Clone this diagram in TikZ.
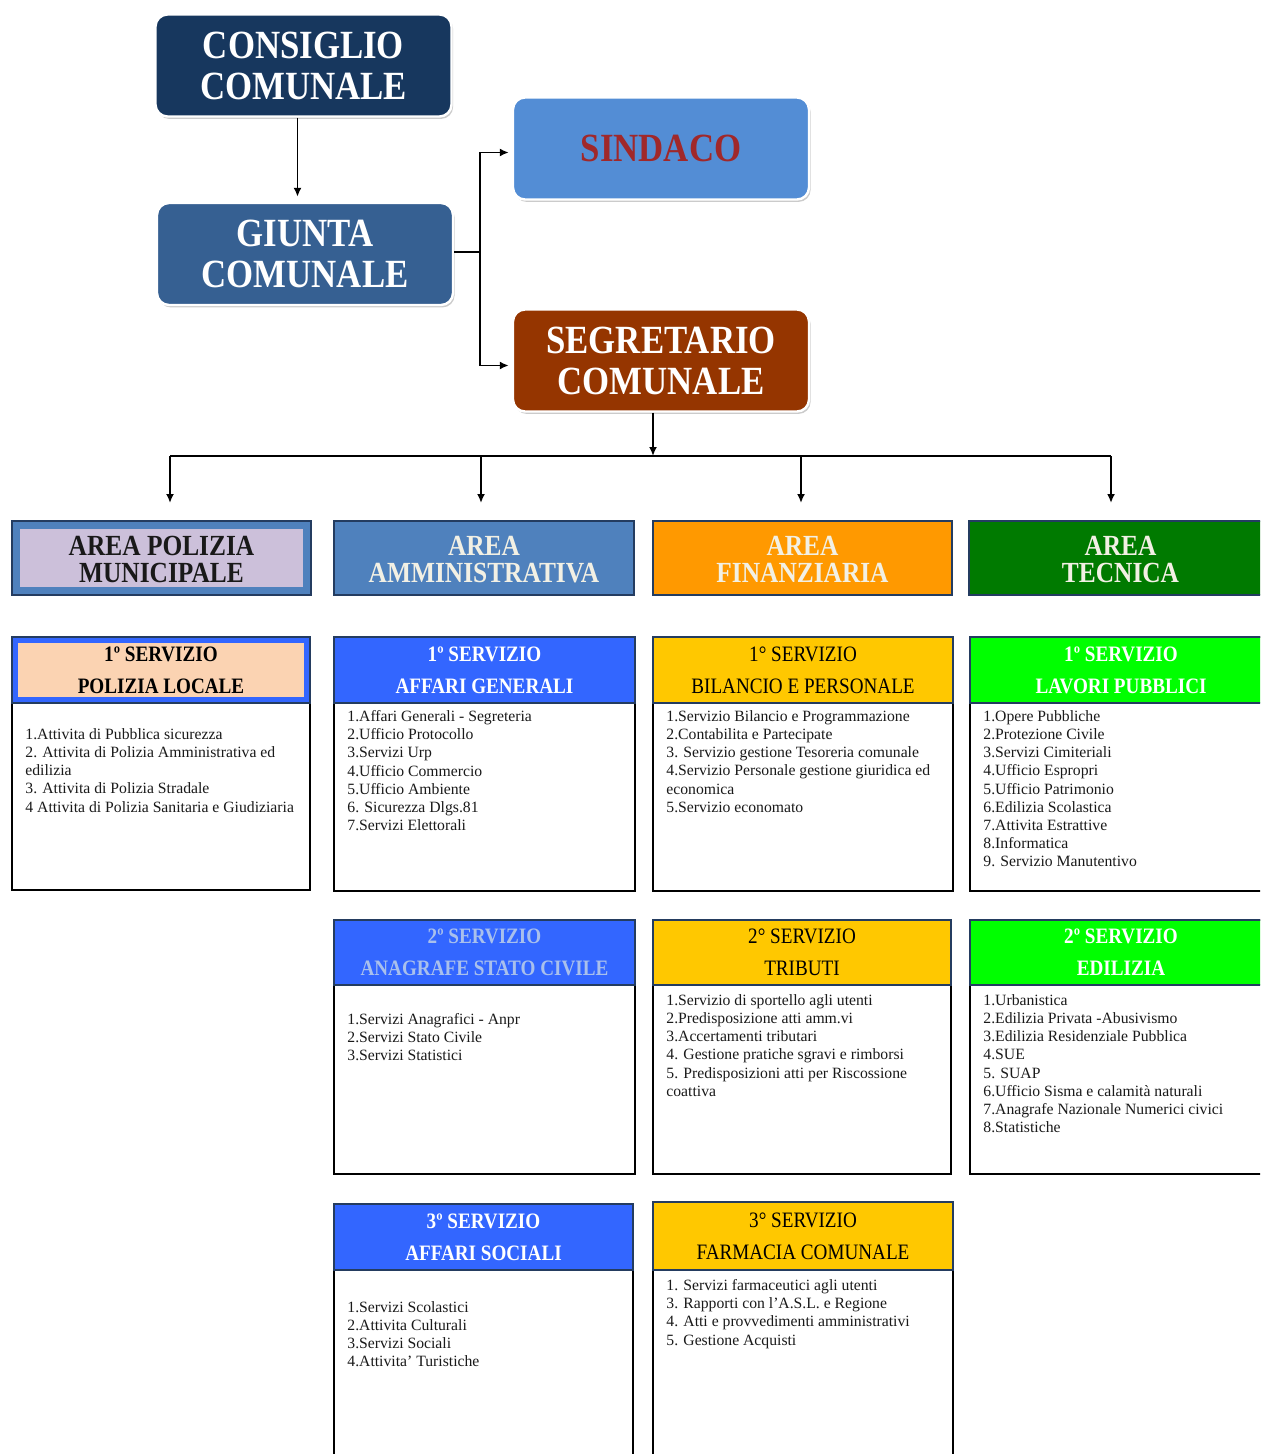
\documentclass[tikz,border=0pt]{standalone}
\usepackage{fontspec}
\setmainfont{Liberation Serif}
\newfontfamily\condfont[FakeStretch=0.87]{Liberation Serif}
\usetikzlibrary{arrows.meta,shadows,fit}
\definecolor{cNavy}{HTML}{17375E}
\definecolor{cGiunta}{HTML}{366092}
\definecolor{cSind}{HTML}{538DD5}
\definecolor{cSindTxt}{HTML}{A0282A}
\definecolor{cSegr}{HTML}{953500}
\definecolor{cLav}{HTML}{CCC0DA}
\definecolor{cAreaBlue}{HTML}{4F81BD}
\definecolor{cOrange}{HTML}{FF9900}
\definecolor{cDkGreen}{HTML}{007A00}
\definecolor{cCream}{HTML}{F2F0E4}
\definecolor{cBlue}{HTML}{3366FF}
\definecolor{cYellow}{HTML}{FFC800}
\definecolor{cGreen}{HTML}{00FF00}
\definecolor{cPeach}{HTML}{FBD3B2}
\definecolor{cLine}{HTML}{243C60}
\definecolor{cAnagTxt}{HTML}{A9C0EC}
\definecolor{cBody}{HTML}{1A1A1A}
\newcommand{\SvcBox}[9]{%
  \coordinate (#1a) at (#2,#4);
  \coordinate (#1b) at (#3,#5);
  \coordinate (#1c) at (#3,#6);
  \node[bodybox, fit=(#1a)(#1c)] (#1body) {};
  \node[hdrbox, #7, fit=(#1a)(#1b)] (#1head) {};
  \node[hdrlabel, #9] (#1label) at (#1head.center) {#8};
}
\begin{document}
\begin{tikzpicture}[x=0.5pt,y=-0.5pt,
  conn/.style={draw=black, line width=0.9pt},
  arr/.style={conn, -{Latex[length=4.5pt,width=4pt]}},
  topbox/.style={rounded corners=6pt, draw=white, line width=1.2pt,
    drop shadow={shadow xshift=0.8pt, shadow yshift=-1.2pt, fill=black!45, opacity=0.45},
    minimum width=148pt, minimum height=51pt, align=center, inner sep=0pt,
    font=\condfont\bfseries\fontsize{20}{20.5}\selectfont, text=white},
  areabox/.style={draw=cLine, line width=1.4pt, inner sep=0pt},
  arealabel/.style={inner sep=0pt, align=center,
    font=\condfont\bfseries\fontsize{14.6}{13.5}\selectfont, text=cCream},
  hdrbox/.style={draw=cLine, line width=1.2pt, inner sep=0pt},
  hdrlabel/.style={inner sep=0pt, align=center,
    font=\condfont\fontsize{11}{16}\selectfont},
  hb/.style={font=\condfont\bfseries\fontsize{11}{16}\selectfont},
  bodybox/.style={draw=black, line width=0.8pt, fill=white, inner sep=0pt},
  bodytxt/.style={anchor=north west, inner sep=0pt, align=left, text=cBody,
    font=\fontsize{7.85}{9.1}\selectfont},
  inset/.style 2 args={path picture={\fill[#1] ([xshift=#2,yshift=-#2]path picture bounding box.north west) rectangle ([xshift=-#2,yshift=#2]path picture bounding box.south east);}}
]
\useasboundingbox (0,0) rectangle (1260,1454);
\clip (0,0) rectangle (1260,1454);

% top boxes
\node[topbox, fill=cNavy] (cons) at (303.5,65.5) {CONSIGLIO\\COMUNALE};
\node[topbox, fill=cGiunta] (giunta) at (305,254) {GIUNTA\\COMUNALE};
\node[topbox, fill=cSind, text=cSindTxt] (sind) at (661,148.5) {SINDACO};
\node[topbox, fill=cSegr] (segr) at (661,360.5) {SEGRETARIO\\COMUNALE};

% connectors top
\draw[arr, shorten >=2.5pt] ([xshift=-3pt]cons.south) -- ([xshift=-3pt]cons.south |- giunta.north);
\coordinate (jn) at (480,252);
\draw[conn] (giunta.east |- jn) -- (jn);
\draw[arr, shorten >=1.5pt] (jn) |- ([yshift=-2pt]sind.west);
\draw[arr, shorten >=1.5pt] (jn) |- ([yshift=-2.5pt]segr.west);
\coordinate (bus) at (653,456);
\draw[arr] (segr.south -| bus) -- (bus);

% area boxes
\coordinate (a1p) at (12,521); \coordinate (a1q) at (311,595);
\coordinate (a2p) at (334,521); \coordinate (a2q) at (634,595);
\coordinate (a3p) at (653,521); \coordinate (a3q) at (952,595);
\coordinate (a4p) at (969,521); \coordinate (a4q) at (1272,595);
\node[areabox, fill=cAreaBlue, inset={cLav}{4pt}, fit=(a1p)(a1q)] (a1) {};
\node[areabox, fill=cAreaBlue, fit=(a2p)(a2q)] (a2) {};
\node[areabox, fill=cOrange, fit=(a3p)(a3q)] (a3) {};
\node[areabox, fill=cDkGreen, fit=(a4p)(a4q)] (a4) {};
\node[arealabel, text=black!90] (a1l) at ([yshift=-0.8pt]a1.center) {AREA POLIZIA\\MUNICIPALE};
\node[arealabel] (a2l) at ([yshift=-0.8pt]a2.center) {AREA\\AMMINISTRATIVA};
\node[arealabel] (a3l) at ([yshift=-0.8pt]a3.center) {AREA\\FINANZIARIA};
\node[arealabel] (a4l) at ([yshift=-0.8pt]a4.center) {AREA\\TECNICA};

% bus and drops
\coordinate (d1) at (170,503);
\coordinate (d2) at (481,503);
\coordinate (d3) at (801,503);
\coordinate (d4) at (1111,503);
\draw[conn] (d1 |- bus) -- (d4 |- bus);
\foreach \i in {1,2,3,4} { \draw[arr] (d\i |- bus) -- (d\i); }

% services row 1
\SvcBox{s11}{12}{310}{637}{703}{890}{fill=cBlue, inset={cPeach}{3pt}}{1º SERVIZIO\\POLIZIA LOCALE}{hb, text=black}
\SvcBox{s12}{334}{635}{637}{703}{891}{fill=cBlue}{1º SERVIZIO\\AFFARI GENERALI}{hb, text=white}
\SvcBox{s13}{653}{953}{637}{703}{891}{fill=cYellow}{1° SERVIZIO\\BILANCIO E PERSONALE}{text=black}
\SvcBox{s14}{970}{1272}{637}{703}{891}{fill=cGreen}{1º SERVIZIO\\LAVORI PUBBLICI}{hb, text=white}
% row 2
\SvcBox{s22}{334}{635}{920}{985}{1174}{fill=cBlue}{2º SERVIZIO\\ANAGRAFE STATO CIVILE}{hb, text=cAnagTxt}
\SvcBox{s23}{653}{951}{920}{985}{1174}{fill=cYellow}{2° SERVIZIO\\TRIBUTI}{text=black}
\SvcBox{s24}{970}{1272}{920}{985}{1174}{fill=cGreen}{2º SERVIZIO\\EDILIZIA}{hb, text=white}
% row 3
\SvcBox{s32}{334}{633}{1204}{1270}{1480}{fill=cBlue}{3º SERVIZIO\\AFFARI SOCIALI}{hb, text=white}
\SvcBox{s33}{653}{953}{1202}{1270}{1480}{fill=cYellow}{3° SERVIZIO\\FARMACIA COMUNALE}{text=black}

% body texts
\node[bodytxt] (t11) at (25,728) {1.Attivita di Pubblica sicurezza\\2. Attivita di Polizia Amministrativa ed\\edilizia\\3. Attivita di Polizia Stradale\\4 Attivita di Polizia Sanitaria e Giudiziaria};
\node[bodytxt] (t12) at (347,710) {1.Affari Generali - Segreteria\\2.Ufficio Protocollo\\3.Servizi Urp\\4.Ufficio Commercio\\5.Ufficio Ambiente\\6. Sicurezza Dlgs.81\\7.Servizi Elettorali};
\node[bodytxt] (t13) at (666,710) {1.Servizio Bilancio e Programmazione\\2.Contabilita e Partecipate\\3. Servizio gestione Tesoreria comunale\\4.Servizio Personale gestione giuridica ed\\economica\\5.Servizio economato};
\node[bodytxt] (t14) at (983,710) {1.Opere Pubbliche\\2.Protezione Civile\\3.Servizi Cimiteriali\\4.Ufficio Espropri\\5.Ufficio Patrimonio\\6.Edilizia Scolastica\\7.Attivita Estrattive\\8.Informatica\\9. Servizio Manutentivo};
\node[bodytxt] (t22) at (347,1013) {1.Servizi Anagrafici - Anpr\\2.Servizi Stato Civile\\3.Servizi Statistici};
\node[bodytxt] (t23) at (666,994) {1.Servizio di sportello agli utenti\\2.Predisposizione atti amm.vi\\3.Accertamenti tributari\\4. Gestione pratiche sgravi e rimborsi\\5. Predisposizioni atti per Riscossione\\coattiva};
\node[bodytxt] (t24) at (983,994) {1.Urbanistica\\2.Edilizia Privata -Abusivismo\\3.Edilizia Residenziale Pubblica\\4.SUE\\5. SUAP\\6.Ufficio Sisma e calamità naturali\\7.Anagrafe Nazionale Numerici civici\\8.Statistiche};
\node[bodytxt] (t32) at (347,1301) {1.Servizi Scolastici\\2.Attivita Culturali\\3.Servizi Sociali\\4.Attivita' Turistiche};
\node[bodytxt] (t33) at (666,1279) {1. Servizi farmaceutici agli utenti\\3. Rapporti con l'A.S.L. e Regione\\4. Atti e provvedimenti amministrativi\\5. Gestione Acquisti};
\end{tikzpicture}
\end{document}
